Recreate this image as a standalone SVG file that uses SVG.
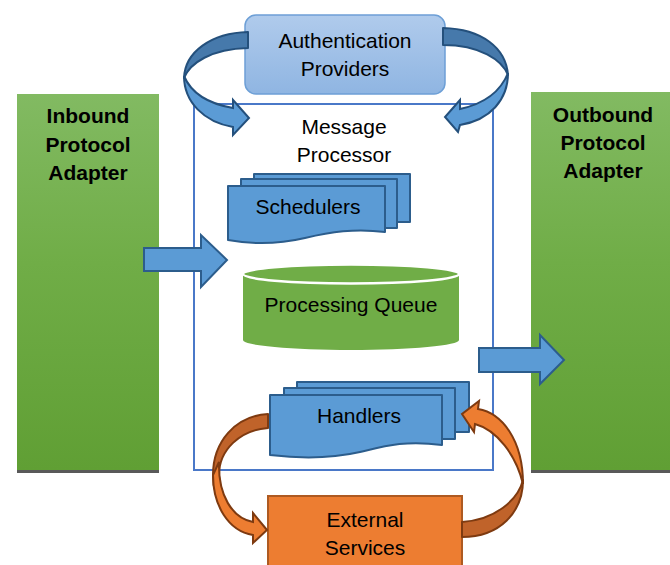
<svg xmlns="http://www.w3.org/2000/svg" width="670" height="565" viewBox="0 0 670 565">
  <defs>
    <linearGradient id="greenGrad" x1="0" y1="0" x2="0" y2="1">
      <stop offset="0" stop-color="#82ba62"/>
      <stop offset="0.45" stop-color="#70ad47"/>
      <stop offset="1" stop-color="#609f34"/>
    </linearGradient>
    <linearGradient id="authGrad" x1="0" y1="0" x2="0" y2="1">
      <stop offset="0" stop-color="#b0cbec"/>
      <stop offset="1" stop-color="#8fb5e2"/>
    </linearGradient>
    <style>
      .lbl { font-family: "Liberation Sans", Arial, sans-serif; font-size: 21px; fill: #000; text-anchor: middle; }
      .bold { font-weight: bold; }
      .adapter { fill: url(#greenGrad); }
      .base { fill: #595959; }
      .doc { fill: #5b9bd5; stroke: #2c5d8c; stroke-width: 2; stroke-linejoin: round; }
      .blk { fill: #5b9bd5; stroke: #2c5d8c; stroke-width: 2; stroke-linejoin: miter; }
      .bdark { fill: #4679ab; stroke: #24507c; stroke-width: 2; stroke-linejoin: round; }
      .blight { fill: #5b9bd5; stroke: #24507c; stroke-width: 2; stroke-linejoin: miter; }
      .odark { fill: #c0632a; stroke: #7e3a10; stroke-width: 2; stroke-linejoin: round; }
      .olight { fill: #ed7d31; stroke: #7e3a10; stroke-width: 2; stroke-linejoin: miter; }
    </style>
  </defs>

  <rect width="670" height="565" fill="#ffffff"/>

  <!-- Inbound adapter -->
  <g id="inbound-adapter">
    <rect class="adapter" x="17" y="94" width="142" height="376"/>
    <rect class="base" x="17" y="470" width="142" height="3"/>
    <text class="lbl bold" x="88" y="123">Inbound</text>
    <text class="lbl bold" x="88" y="152">Protocol</text>
    <text class="lbl bold" x="88" y="180">Adapter</text>
  </g>

  <!-- Outbound adapter -->
  <g id="outbound-adapter">
    <rect class="adapter" x="531" y="92" width="139" height="378"/>
    <rect class="base" x="531" y="470" width="139" height="3"/>
    <text class="lbl bold" x="603" y="122">Outbound</text>
    <text class="lbl bold" x="603" y="150">Protocol</text>
    <text class="lbl bold" x="603" y="178">Adapter</text>
  </g>

  <!-- Message processor container -->
  <g id="message-processor">
    <rect x="194" y="104" width="299" height="366" fill="none" stroke="#4a78c8" stroke-width="2"/>
    <text class="lbl" x="344" y="134">Message</text>
    <text class="lbl" x="344" y="162">Processor</text>
  </g>

  <!-- Authentication providers -->
  <g id="auth-providers">
    <rect x="245" y="15" width="200" height="79" rx="11" ry="11" fill="url(#authGrad)" stroke="#6d9fd6" stroke-width="1.5"/>
    <text class="lbl" x="345" y="48">Authentication</text>
    <text class="lbl" x="345" y="76">Providers</text>
  </g>

  <!-- Schedulers (stacked documents) -->
  <g id="schedulers">
    <rect class="doc" x="254" y="174" width="156" height="48"/>
    <rect class="doc" x="241" y="179" width="156" height="49"/>
    <path class="doc" d="M228,186 H385 V232 C355,228 330,232 305,238 C275,245 250,244 228,240 Z"/>
    <text class="lbl" x="308" y="214">Schedulers</text>
  </g>

  <!-- Processing queue (cylinder) -->
  <g id="processing-queue">
    <path d="M243,274 V340 A108,10 0 0 0 459,340 V274 Z" fill="#70ad47"/>
    <ellipse cx="351" cy="274" rx="108" ry="9.5" fill="#70ad47" stroke="#ffffff" stroke-width="2.5"/>
    <text class="lbl" x="351" y="312">Processing Queue</text>
  </g>

  <!-- Handlers (stacked documents) -->
  <g id="handlers">
    <rect class="doc" x="297" y="382" width="172" height="50"/>
    <rect class="doc" x="284" y="388" width="171" height="51"/>
    <path class="doc" d="M270,395 H442 V445 C405,440 385,446 360,452 C325,460 295,458 270,455 Z"/>
    <text class="lbl" x="359" y="423">Handlers</text>
  </g>

  <!-- External services -->
  <g id="external-services">
    <rect x="268" y="496" width="194" height="75" fill="#ed7d31" stroke="#ae5a21" stroke-width="2"/>
    <text class="lbl" x="365" y="527">External</text>
    <text class="lbl" x="365" y="555">Services</text>
  </g>

  <!-- Connectors -->
  <g id="connectors">
    <!-- inbound block arrow -->
    <path class="blk" d="M144,248 H201 V235 L227,260 L201,287 V271 H144 Z"/>
    <!-- outbound block arrow -->
    <path class="blk" d="M479,348 H540 V335 L564,360 L540,384 V372 H479 Z"/>

    <!-- auth loop, left side -->
    <path class="bdark" d="M248,32 C211,33 185,52 184,78 C190,63 211,49 248,48 Z"/>
    <path class="blight" d="M184,76 C184,102 204,122 233,127 L233,135 L249,118 L233,100 L233,108 C210,104 192,95 184,76 Z"/>

    <!-- auth loop, right side -->
    <path class="bdark" d="M443,28 C482,29 506,48 508,75 C502,60 480,45 443,45 Z"/>
    <path class="blight" d="M508,73 C508,100 490,120 460,125 L458,132 L445,117 L460,100 L460,109 C483,104 500,93 508,73 Z"/>

    <!-- handlers to external services -->
    <path class="odark" d="M268,414 C235,416 213,442 213,475 C213,498 224,514 240,525 C228,510 220,495 219,475 C219,450 240,430 268,428 Z"/>
    <path class="olight" d="M219,462 C218,495 232,518 253,522 L253,513 L267,530 L253,543 L253,535 C228,531 213,505 213,475 Z"/>

    <!-- external services back to handlers -->
    <path class="odark" d="M462,537 C500,537 523,512 523,480 C518,500 495,520 462,522 Z"/>
    <path class="olight" d="M523,484 C523,440 502,413 478,409 L479,401 L462,414 L474,432 L475,424 C497,430 516,455 523,484 Z"/>
  </g>
</svg>
